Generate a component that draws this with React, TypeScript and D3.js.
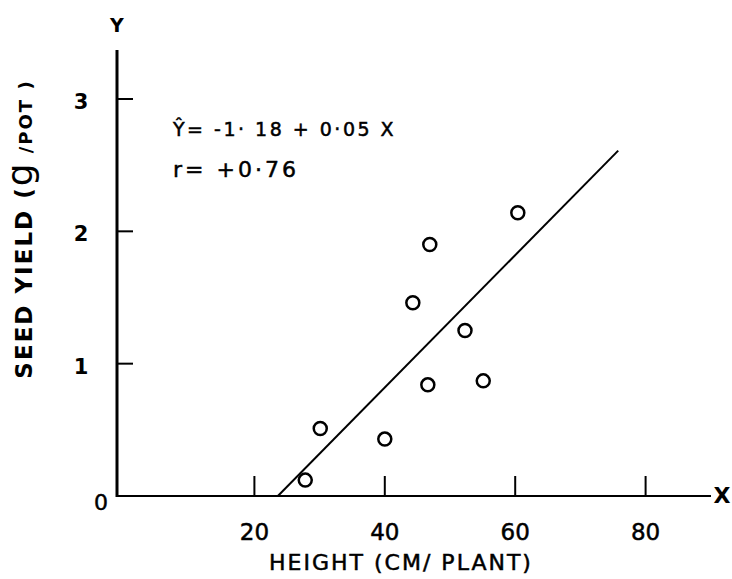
import React from "react";
import * as d3 from "d3";

const heights = [27.8, 30.1, 40.0, 44.3, 46.9, 60.4, 52.3, 46.6, 55.1];
const yields = [0.12, 0.51, 0.43, 1.46, 1.9, 2.14, 1.25, 0.84, 0.87];
const regX = [23.6, 75.8];
const regY = [0.0, 2.61];
const xTicks = [20, 40, 60, 80];
const yTicks = [1, 2, 3];

export default function App() {
  const W = 732, H = 579;
  const x = d3.scaleLinear().domain([0, 90]).range([124, 710.8]);
  const y = d3.scaleLinear().domain([0, 3]).range([496, 99]);
  const axisX = 117;
  const font = "DejaVu Sans, sans-serif";
  const line = d3.line<number>().x((d) => x(regX[d])).y((d) => y(regY[d]));
  const pts = heights.map((h, i) => ({ h, v: yields[i] }));
  const thick = { stroke: "#000", strokeWidth: 0.5 };
  return (
    <svg width={W} height={H} style={{ position: "absolute", left: 0, top: 0, background: "#fff" }}>
      {/* axes */}
      <line x1={axisX} y1={50} x2={axisX} y2={y(0) + 1} stroke="#000" strokeWidth={3} />
      <line x1={axisX} y1={y(0)} x2={711} y2={y(0)} stroke="#000" strokeWidth={2} />
      {yTicks.map((t) => (
        <g key={"y" + t}>
          <line x1={axisX} x2={axisX + 16} y1={y(t)} y2={y(t)} stroke="#000" strokeWidth={2} />
          <text x={81} y={y(t) + 10} fontFamily={font} fontSize={21} fontWeight="bold" textAnchor="middle">{t}</text>
        </g>
      ))}
      <text x={101} y={510} fontFamily={font} fontSize={22} textAnchor="middle" {...thick}>0</text>
      {xTicks.map((t) => (
        <g key={"x" + t}>
          <line x1={x(t)} x2={x(t)} y1={y(0)} y2={y(0) - 20} stroke="#000" strokeWidth={2} />
          <text x={x(t)} y={540} fontFamily={font} fontSize={23} textAnchor="middle" {...thick}>{t}</text>
        </g>
      ))}
      <text x={117} y={32} fontFamily={font} fontSize={19} fontWeight="bold" textAnchor="middle">Y</text>
      <text x={722} y={503} fontFamily={font} fontSize={22} fontWeight="bold" textAnchor="middle">X</text>
      {/* axis titles */}
      <text x={401} y={570} fontFamily={font} fontSize={22} textAnchor="middle" letterSpacing={2} {...thick}>HEIGHT (CM/ PLANT)</text>
      <text transform="translate(32,229) rotate(-90)" fontFamily={font} fontSize={23} textAnchor="middle" fontWeight="bold" letterSpacing={2}>
        SEED YIELD (<tspan fontSize={36} fontWeight="normal">g</tspan><tspan fontSize={18}> /POT )</tspan>
      </text>
      {/* annotation */}
      <text x={173} y={136} fontFamily={font} fontSize={19} letterSpacing={2.5} {...thick}>Ŷ= -1· 18 + 0·05 X</text>
      <text x={173} y={177} fontFamily={font} fontSize={22} letterSpacing={3} {...thick}>r=  +0·76</text>
      {/* regression line */}
      <path d={line([0, 1]) || ""} stroke="#000" strokeWidth={2} fill="none" />
      {/* points */}
      {pts.map((p, i) => (
        <circle key={i} cx={x(p.h)} cy={y(p.v)} r={6.5} fill="#fff" stroke="#000" strokeWidth={2.5} />
      ))}
    </svg>
  );
}
